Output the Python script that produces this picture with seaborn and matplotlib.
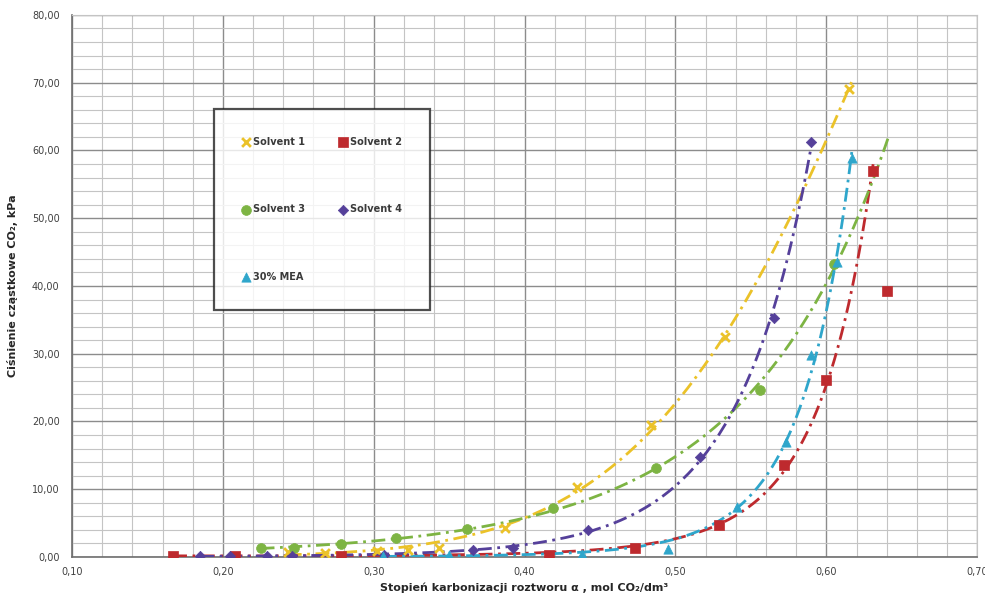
import numpy as np
import pandas as pd
import matplotlib
matplotlib.use("Agg")
import matplotlib.pyplot as plt
from matplotlib.ticker import MultipleLocator, FuncFormatter
import seaborn as sns

labels = ["Solvent 1", "Solvent 2", "Solvent 3", "Solvent 4", "30% MEA"]

s1_x = [0.243, 0.268, 0.302, 0.323, 0.343, 0.387, 0.435, 0.484, 0.533, 0.615]
s1_y = [0.7, 0.6, 0.9, 1.0, 1.4, 4.3, 10.4, 19.5, 32.5, 69.0]

s2_x = [0.167, 0.208, 0.278, 0.416, 0.473, 0.529, 0.572, 0.600, 0.631, 0.640]
s2_y = [0.2, 0.2, 0.2, 0.3, 1.3, 4.7, 13.6, 26.1, 56.9, 39.2]

s3_x = [0.225, 0.247, 0.278, 0.315, 0.362, 0.419, 0.487, 0.556, 0.605]
s3_y = [1.3, 1.3, 1.9, 2.8, 4.2, 7.2, 13.1, 24.7, 43.2]

s4_x = [0.185, 0.205, 0.229, 0.246, 0.307, 0.366, 0.392, 0.442, 0.516, 0.565, 0.590]
s4_y = [0.1, 0.1, 0.2, 0.2, 0.3, 1.0, 1.3, 4.0, 14.8, 35.3, 61.3]

mea_x = [0.306, 0.350, 0.438, 0.495, 0.541, 0.573, 0.590, 0.607, 0.617]
mea_y = [0.1, 0.3, 0.5, 1.2, 7.4, 17.0, 29.8, 43.6, 58.9]

# koniec linii trendu (Solvent 3 ma prognoze do przodu, ostatni punkt Solvent 2 poza trendem)
trend_end = [0.617, 0.631, 0.641, 0.590, 0.617]

xs = [s1_x, s2_x, s3_x, s4_x, mea_x]
ys = [s1_y, s2_y, s3_y, s4_y, mea_y]

colors = {"Solvent 1": "#EBC229", "Solvent 2": "#BE2A2E", "Solvent 3": "#7DB443",
          "Solvent 4": "#55409A", "30% MEA": "#2FA6CB"}
markers = {"Solvent 1": "x", "Solvent 2": "s", "Solvent 3": "o",
           "Solvent 4": "D", "30% MEA": "^"}
msize = {"Solvent 1": 40, "Solvent 2": 50, "Solvent 3": 50,
         "Solvent 4": 28, "30% MEA": 45}

pts = pd.concat([pd.DataFrame({"x": x, "y": y, "serie": lab})
                 for x, y, lab in zip(xs, ys, labels)], ignore_index=True)

# linie trendu (log y ~ wielomian 2 stopnia)
trend = []
for x, y, lab, xe in zip(xs, ys, labels, trend_end):
    x = np.array(x)
    y = np.array(y)
    m = x <= xe
    c = np.polyfit(x[m], np.log(y[m]), 2, w=np.sqrt(y[m]))
    xx = np.linspace(x.min(), xe, 200)
    trend.append(pd.DataFrame({"x": xx, "y": np.exp(np.polyval(c, xx)), "serie": lab}))
trend = pd.concat(trend, ignore_index=True)

sns.set_style("white")
plt.rcParams['font.family'] = ['DejaVu Sans']

fig = plt.figure(figsize=(9.85, 5.99), dpi=100)
ax = fig.add_axes([0.0731, 0.0701, 0.919, 0.905])

sns.lineplot(data=trend, x="x", y="y", hue="serie", style="serie",
             palette=colors, dashes={l: (5, 2, 1, 2) for l in labels},
             linewidth=2, sort=False, legend=False, ax=ax, zorder=3)

handles = {}
for lab in labels:
    sub = pts[pts.serie == lab]
    if markers[lab] == "x":
        sns.scatterplot(data=sub, x="x", y="y", color=colors[lab], marker="x",
                        s=msize[lab], linewidth=2, ax=ax, zorder=4, legend=False)
    else:
        sns.scatterplot(data=sub, x="x", y="y", color=colors[lab], marker=markers[lab],
                        s=msize[lab], edgecolor=colors[lab], linewidth=0.5,
                        ax=ax, zorder=4, legend=False)
    handles[lab] = ax.collections[-1]

ax.set_xlim(0.10, 0.70)
ax.set_ylim(0, 80)
ax.xaxis.set_major_locator(MultipleLocator(0.1))
ax.xaxis.set_minor_locator(MultipleLocator(0.02))
ax.yaxis.set_major_locator(MultipleLocator(10))
ax.yaxis.set_minor_locator(MultipleLocator(2))
ax.xaxis.set_major_formatter(FuncFormatter(lambda v, p: f"{v:.2f}".replace(".", ",")))
ax.yaxis.set_major_formatter(FuncFormatter(lambda v, p: f"{v:.2f}".replace(".", ",")))

ax.grid(which="major", color="#8c8c8c", linewidth=1.0)
ax.grid(which="minor", color="#c4c4c4", linewidth=0.8)
ax.set_axisbelow(True)

for s in ["top", "right"]:
    ax.spines[s].set_color("#c4c4c4")
for s in ["left", "bottom"]:
    ax.spines[s].set_color("#6e6e6e")
    ax.spines[s].set_linewidth(1.2)

ax.tick_params(axis="both", which="major", length=4, width=1, color="#6e6e6e",
               labelsize=7, labelcolor="#404040", direction="out")
ax.tick_params(axis="both", which="minor", length=0)
ax.tick_params(axis="x", pad=3)
ax.tick_params(axis="y", pad=5)

ax.set_xlabel("Stopień karbonizacji roztworu α , mol CO₂/dm³",
              fontsize=8, fontweight="bold", labelpad=4)
ax.set_ylabel("Ciśnienie cząstkowe CO₂, kPa", fontsize=8, fontweight="bold", labelpad=10)

order = ["Solvent 1", "Solvent 3", "30% MEA", "Solvent 2", "Solvent 4"]
leg = ax.legend([handles[l] for l in order], order, ncol=2, loc="upper left",
                bbox_to_anchor=(0.157, 0.827), fontsize=7, frameon=True,
                fancybox=False, edgecolor="#222222", labelspacing=5.9,
                borderpad=2.9, handlelength=0.8, handletextpad=0.3,
                columnspacing=3.5, borderaxespad=0)
leg.get_frame().set_linewidth(1.6)
leg.set_zorder(6)
for t in leg.get_texts():
    t.set_fontweight("bold")
    t.set_color("#3a3a3a")

fig.savefig("out.png", dpi=100)
